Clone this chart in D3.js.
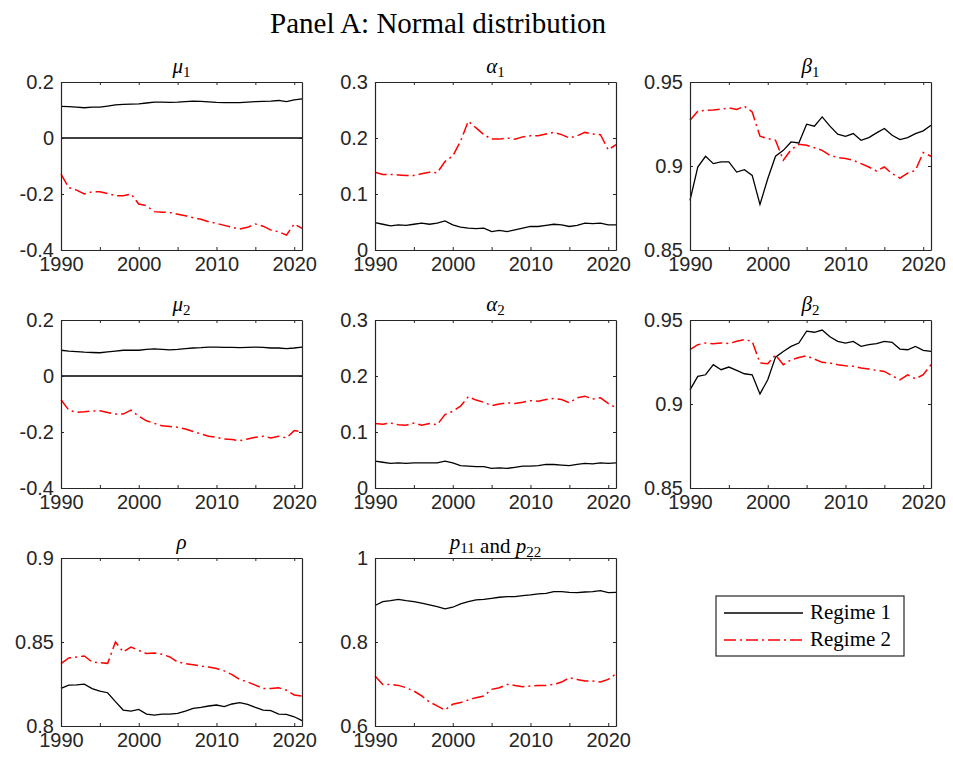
<!DOCTYPE html>
<html>
<head>
<meta charset="utf-8">
<script src="https://cdn.jsdelivr.net/npm/d3@7"></script>
<style>
  body { margin: 0; background: #fff; }
  svg { display: block; }
  .tick text { font-family: "Liberation Sans", Arial, sans-serif; font-size: 20px; fill: #262626; }
  .tick line, .domain { stroke: #262626; }
</style>
</head>
<body>
<div id="chart"></div>
<script>
var width = 953;
var height = 760;

// x values: one estimate per year
var years = d3.range(1990, 2022);

// mu_1
var mu1_r1 = [0.113,0.112,0.110,0.108,0.110,0.110,0.114,0.118,0.120,0.121,0.122,0.125,0.128,0.128,0.127,0.128,0.130,0.132,0.131,0.129,0.127,0.126,0.126,0.126,0.128,0.130,0.131,0.132,0.134,0.130,0.136,0.140];
var mu1_r2 = [-0.129,-0.177,-0.186,-0.200,-0.192,-0.192,-0.198,-0.206,-0.206,-0.200,-0.236,-0.242,-0.263,-0.265,-0.266,-0.272,-0.278,-0.285,-0.290,-0.299,-0.305,-0.312,-0.319,-0.325,-0.319,-0.307,-0.315,-0.329,-0.335,-0.347,-0.307,-0.323];
// alpha_1
var alpha1_r1 = [0.049,0.046,0.043,0.045,0.044,0.046,0.048,0.046,0.048,0.052,0.045,0.041,0.039,0.038,0.039,0.033,0.035,0.033,0.036,0.039,0.042,0.042,0.044,0.046,0.045,0.042,0.044,0.048,0.047,0.048,0.045,0.045];
var alpha1_r2 = [0.139,0.135,0.135,0.134,0.133,0.133,0.136,0.139,0.138,0.158,0.168,0.194,0.230,0.218,0.206,0.198,0.198,0.200,0.198,0.202,0.204,0.204,0.207,0.210,0.206,0.200,0.204,0.210,0.207,0.206,0.179,0.188];
// beta_1
var beta1_r1 = [0.8795,0.8994,0.9058,0.9014,0.9024,0.9024,0.8964,0.8978,0.8944,0.8771,0.8924,0.9058,0.9093,0.9143,0.9137,0.9249,0.9237,0.9292,0.9237,0.9189,0.9177,0.9193,0.9153,0.9169,0.9197,0.9223,0.9183,0.9157,0.9169,0.9193,0.9209,0.9243];
var beta1_r2 = [0.9272,0.9326,0.9332,0.9334,0.9338,0.9346,0.9336,0.9356,0.9322,0.9177,0.9163,0.9153,0.9034,0.9097,0.9129,0.9123,0.9109,0.9093,0.9064,0.9050,0.9044,0.9034,0.9014,0.8994,0.8970,0.8994,0.8954,0.8928,0.8958,0.8974,0.9080,0.9058];
// mu_2
var mu2_r1 = [0.092,0.089,0.087,0.085,0.084,0.083,0.086,0.089,0.092,0.092,0.092,0.095,0.097,0.095,0.093,0.095,0.098,0.100,0.101,0.103,0.103,0.102,0.102,0.101,0.102,0.103,0.102,0.100,0.100,0.098,0.100,0.103];
var mu2_r2 = [-0.085,-0.122,-0.130,-0.128,-0.125,-0.124,-0.130,-0.136,-0.136,-0.122,-0.144,-0.160,-0.169,-0.178,-0.180,-0.183,-0.189,-0.198,-0.207,-0.215,-0.219,-0.225,-0.227,-0.231,-0.225,-0.219,-0.215,-0.221,-0.215,-0.221,-0.195,-0.199];
// alpha_2
var alpha2_r1 = [0.048,0.046,0.044,0.045,0.044,0.045,0.045,0.045,0.045,0.048,0.045,0.040,0.039,0.038,0.038,0.035,0.036,0.035,0.037,0.039,0.039,0.040,0.042,0.042,0.041,0.040,0.042,0.044,0.043,0.045,0.044,0.045];
var alpha2_r2 = [0.115,0.114,0.116,0.113,0.112,0.116,0.112,0.115,0.113,0.131,0.137,0.146,0.163,0.157,0.153,0.147,0.150,0.152,0.151,0.153,0.156,0.155,0.158,0.160,0.158,0.152,0.161,0.164,0.159,0.161,0.151,0.143];
// beta_2
var beta2_r1 = [0.9084,0.9164,0.9174,0.9234,0.9204,0.9220,0.9200,0.9180,0.9174,0.9060,0.9144,0.9279,0.9313,0.9343,0.9363,0.9434,0.9427,0.9440,0.9400,0.9373,0.9363,0.9373,0.9343,0.9353,0.9359,0.9373,0.9367,0.9327,0.9323,0.9343,0.9319,0.9313];
var beta2_r2 = [0.9323,0.9353,0.9363,0.9359,0.9363,0.9360,0.9373,0.9383,0.9373,0.9244,0.9240,0.9293,0.9234,0.9263,0.9277,0.9287,0.9267,0.9248,0.9244,0.9234,0.9228,0.9224,0.9214,0.9208,0.9200,0.9194,0.9168,0.9144,0.9174,0.9150,0.9174,0.9234];
// rho
var rho_r1 = [0.8224,0.8243,0.8245,0.8249,0.8223,0.8207,0.8198,0.8145,0.8095,0.8089,0.8099,0.8071,0.8065,0.8071,0.8071,0.8075,0.8089,0.8105,0.8111,0.8119,0.8125,0.8115,0.8131,0.8139,0.8129,0.8111,0.8095,0.8091,0.8071,0.8069,0.8055,0.8032];
var rho_r2 = [0.8371,0.8405,0.8411,0.8417,0.8381,0.8377,0.8373,0.8500,0.8441,0.8470,0.8450,0.8431,0.8435,0.8427,0.8411,0.8381,0.8371,0.8365,0.8357,0.8351,0.8342,0.8328,0.8306,0.8276,0.8262,0.8243,0.8223,0.8223,0.8227,0.8213,0.8184,0.8179];
// p11 and p22
var p11 = [0.8868,0.8962,0.8986,0.9017,0.8986,0.8962,0.8923,0.8883,0.8844,0.8789,0.8828,0.8907,0.8962,0.9002,0.9017,0.9041,0.9065,0.9080,0.9080,0.9104,0.9120,0.9144,0.9159,0.9199,0.9199,0.9183,0.9175,0.9191,0.9199,0.9222,0.9175,0.9183];
var p22 = [0.7188,0.6990,0.6990,0.6967,0.6912,0.6833,0.6715,0.6573,0.6478,0.6380,0.6517,0.6557,0.6620,0.6675,0.6715,0.6872,0.6912,0.6990,0.6967,0.6935,0.6951,0.6967,0.6967,0.6990,0.7046,0.7148,0.7109,0.7069,0.7069,0.7046,0.7109,0.7243];

// tick labels
var xTicks = [1990, 1995, 2000, 2005, 2010, 2015, 2020];
var muTicks = [-0.4, -0.2, 0, 0.2];
var alphaTicks = [0, 0.1, 0.2, 0.3];
var betaTicks = [0.85, 0.9, 0.95];
var rhoTicks = [0.8, 0.85, 0.9];
var pTicks = [0.6, 0.8, 1];

var legendLabels = ["Regime 1", "Regime 2"];

// panel table: title pieces [text, italic, subscript]
var panels = [
  {title: [["\u03bc", true, "1"]], r1: mu1_r1, r2: mu1_r2, ticks: muTicks, zero: true, col: 0, row: 0},
  {title: [["\u03b1", true, "1"]], r1: alpha1_r1, r2: alpha1_r2, ticks: alphaTicks, col: 1, row: 0},
  {title: [["\u03b2", true, "1"]], r1: beta1_r1, r2: beta1_r2, ticks: betaTicks, col: 2, row: 0},
  {title: [["\u03bc", true, "2"]], r1: mu2_r1, r2: mu2_r2, ticks: muTicks, zero: true, col: 0, row: 1},
  {title: [["\u03b1", true, "2"]], r1: alpha2_r1, r2: alpha2_r2, ticks: alphaTicks, col: 1, row: 1},
  {title: [["\u03b2", true, "2"]], r1: beta2_r1, r2: beta2_r2, ticks: betaTicks, col: 2, row: 1},
  {title: [["\u03c1", true, ""]], r1: rho_r1, r2: rho_r2, ticks: rhoTicks, col: 0, row: 2},
  {title: [["p", true, "11"], [" and ", false, ""], ["p", true, "22"]], r1: p11, r2: p22, ticks: pTicks, col: 1, row: 2}
];

var colLeft = [61, 375, 690];
var rowTop = [82, 320, 558];
var pw = 241, ph = 168;

var svg = d3.select("#chart").append("svg")
  .attr("width", width)
  .attr("height", height);

svg.append("text")
  .attr("x", 438)
  .attr("y", 33)
  .attr("text-anchor", "middle")
  .style("font-family", "'Liberation Serif', 'Times New Roman', serif")
  .style("font-size", "29px")
  .style("fill", "#000")
  .text("Panel A: Normal distribution");

var x = d3.scaleLinear().domain([1990, 2021]).range([0, pw]);

panels.forEach(function(p) {
  var g = svg.append("g")
    .attr("transform", "translate(" + colLeft[p.col] + "," + rowTop[p.row] + ")");

  var ext = d3.extent(p.ticks);
  var y = d3.scaleLinear().domain(ext).range([ph, 0]);

  g.append("rect")
    .attr("width", pw).attr("height", ph)
    .attr("fill", "#fff");

  var line = d3.line()
    .x(function(d, i) { return x(years[i]); })
    .y(function(d) { return y(d); });

  if (p.zero) {
    g.append("line")
      .attr("x1", 0).attr("x2", pw)
      .attr("y1", y(0)).attr("y2", y(0))
      .attr("stroke", "#000").attr("stroke-width", 1.3);
  }

  g.append("path")
    .datum(p.r2)
    .attr("d", line)
    .attr("fill", "none")
    .attr("stroke", "#ff0000")
    .attr("stroke-width", 1.5)
    .attr("stroke-dasharray", "12,4,2,4");

  g.append("path")
    .datum(p.r1)
    .attr("d", line)
    .attr("fill", "none")
    .attr("stroke", "#000")
    .attr("stroke-width", 1.3);

  // axes, ticks drawn inward like matlab
  g.append("g")
    .attr("transform", "translate(0," + ph + ")")
    .call(d3.axisBottom(x).tickValues(xTicks).tickSizeInner(-3).tickSizeOuter(0).tickPadding(7)
      .tickFormat(function(d) { return d % 10 == 0 ? d : ""; }));
  g.append("g")
    .call(d3.axisTop(x).tickValues(xTicks).tickSizeInner(-3).tickSizeOuter(0).tickFormat(""));
  g.append("g")
    .call(d3.axisLeft(y).tickValues(p.ticks).tickSizeInner(-3).tickSizeOuter(0).tickPadding(7)
      .tickFormat(function(d) { return String(+d.toFixed(2)); }));
  g.append("g")
    .attr("transform", "translate(" + pw + ",0)")
    .call(d3.axisRight(y).tickValues(p.ticks).tickSizeInner(-3).tickSizeOuter(0).tickFormat(""));

  g.selectAll(".domain").attr("stroke-width", 1.2);

  // title
  var t = g.append("text")
    .attr("x", pw / 2)
    .attr("y", -9)
    .attr("text-anchor", "middle")
    .style("font-family", "'Liberation Serif', 'Times New Roman', serif")
    .style("font-size", "21px")
    .style("fill", "#000");
  p.title.forEach(function(part) {
    t.append("tspan")
      .style("font-style", part[1] ? "italic" : "normal")
      .text(part[0]);
    if (part[2]) {
      t.append("tspan")
        .attr("dy", 4)
        .style("font-size", "15px")
        .text(part[2]);
      t.append("tspan").attr("dy", -4).text("");
    }
  });
});

// legend
var lg = svg.append("g").attr("transform", "translate(716,596)");
lg.append("rect")
  .attr("width", 188).attr("height", 60)
  .attr("fill", "#fff")
  .attr("stroke", "#262626")
  .attr("stroke-width", 1.2);

legendLabels.forEach(function(name, i) {
  var yy = 17 + i * 27;
  lg.append("line")
    .attr("x1", 8).attr("x2", 87)
    .attr("y1", yy).attr("y2", yy)
    .attr("stroke", i == 0 ? "#000" : "#ff0000")
    .attr("stroke-width", i == 0 ? 1.3 : 1.5)
    .attr("stroke-dasharray", i == 0 ? null : "12,4,2,4");
  lg.append("text")
    .attr("x", 94)
    .attr("y", yy + 6)
    .style("font-family", "'Liberation Serif', 'Times New Roman', serif")
    .style("font-size", "21px")
    .style("fill", "#000")
    .text(name);
});
</script>
</body>
</html>
